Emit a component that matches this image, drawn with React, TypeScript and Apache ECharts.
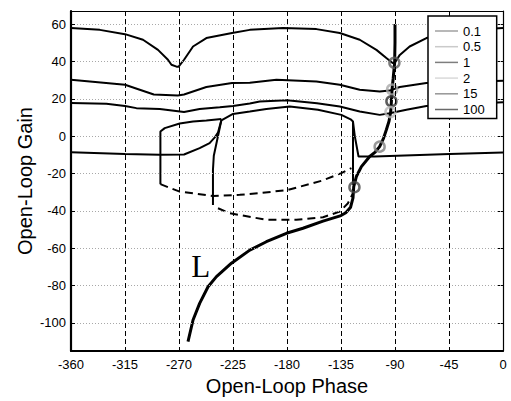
import React, { useEffect, useRef } from "react";
import * as echarts from "echarts";

const phaseTicks = [-360, -315, -270, -225, -180, -135, -90, -45, 0];
const gainTicks = [-100, -80, -60, -40, -20, 0, 20, 40, 60];

const legendNames = ["0.1", "0.5", "1", "2", "15", "100"];
const legendColors = ["#8a8a8a", "#bdbdbd", "#5e5e5e", "#d0d0d0", "#7a7a7a", "#444444"];
const markerColors = ["#5a5a5a", "#a8a8a8", "#333333", "#b8b8b8", "#808080", "#444444"];
const markerPoints = [
  [-90.5, 39.3],
  [-92.4, 25.0],
  [-93.0, 18.7],
  [-93.8, 12.9],
  [-102.8, -5.6],
  [-123.8, -27.3],
];

const curveA = [
  [-360, 57.9], [-336, 56.9], [-315, 54.6], [-300, 51.6], [-287.5, 46.2], [-279.2, 40.9],
  [-276.3, 38.2], [-272, 37.2], [-270.3, 37.2], [-265.8, 40.9], [-258.3, 48], [-247.2, 52.5],
  [-225.8, 55.2], [-211, 56.9], [-183.3, 57.9], [-155.5, 57.3], [-136, 55.2], [-119.4, 51.6],
  [-105.5, 46.2], [-97.2, 41.8], [-92, 39.2], [-90.3, 39.2], [-86, 43.5], [-77.8, 48],
  [-63.8, 52.5], [-45, 55.2], [-25, 57], [0, 57.9],
];
const curveB = [
  [-360, 30.2], [-315, 27.5], [-291, 22.3], [-271, 21.8], [-265.8, 22.3], [-247.2, 26.3],
  [-225.8, 28.4], [-211, 28.6], [-188.8, 30.2], [-155.5, 29.3], [-136, 27.5], [-119.4, 24.8],
  [-102.7, 23.9], [-94.4, 24.4], [-86, 26.3], [-63.8, 28.4], [0, 29.6],
];
const curveC = [
  [-360, 17.7], [-330.5, 17.3], [-315, 16.2], [-305.5, 15], [-286, 14.6], [-265.8, 12.9],
  [-252.8, 14.5], [-236, 15.5], [-225, 16.2], [-211, 17.5], [-202.7, 18.5], [-180, 19.2],
  [-155, 17.6], [-136, 15.9], [-119.4, 13.2], [-102.7, 11.4], [-94.4, 12.3], [-80.5, 14.1],
  [-63.8, 16.2], [0, 18.2],
];
const curveD = [
  [-360, -8.6], [-315, -9.5], [-286, -10], [-265.8, -9.8], [-252.8, -6.4], [-244.5, -3.7],
  [-240, -0.5], [-237.5, 2], [-234.7, 8.5], [-225, 11.9], [-211, 13.2], [-197.2, 14.5],
  [-177.7, 15.9], [-154.2, 14.1], [-134.7, 11.4], [-127, 9], [-125, 7.8], [-123.5, 0],
  [-120.4, -10.9], [-107, -10.9], [-44.4, -9.5], [0, -8.8],
];
const outerTop = [
  [-285.5, -25.7], [-285.5, 2.5], [-281.9, 4.3], [-269.4, 6.8], [-258.3, 7.8], [-247.2, 8.4],
  [-234.7, 9.2],
];
const innerSide = [[-234.7, 8.5], [-241, -10.5], [-241.7, -18], [-241.7, -36.8]];
const rightSide = [[-125, 7.8], [-125, -26]];
const outerDashed = [
  [-285.5, -25.7], [-269.4, -29.7], [-241.7, -32], [-219.4, -31.4], [-202.7, -30.5],
  [-179.2, -28.8], [-151.3, -23.9], [-134.7, -19.8], [-126.3, -17.1],
];
const innerDashed = [
  [-237.5, -38.6], [-227.8, -41.2], [-197.2, -44.8], [-172.2, -44.8], [-150, -43.4],
  [-136, -40.4], [-129.2, -35.9], [-125, -30.5], [-124.4, -27],
];
const openLoop = [
  [-90, 60], [-90, 50], [-90.3, 39.4], [-91.5, 31], [-92.5, 24.8], [-93, 18.5], [-93.6, 12.9],
  [-95, 8], [-97.2, 3.4], [-99.5, -1], [-102.8, -5.6], [-106.5, -8.5], [-111.1, -10.9],
  [-118, -16.3], [-122.2, -21.6], [-124.4, -27], [-125, -33], [-127, -38], [-131, -41],
  [-135, -42.5], [-150, -45.5], [-166.7, -49.3], [-180.5, -52], [-197.2, -56.5], [-211, -61],
  [-226.3, -68], [-238.8, -75.2], [-245.8, -80.6], [-252.8, -89.5], [-258.3, -98.4],
  [-262.5, -110],
];
const curveLabel = { text: "L", at: [-252, -70] };

const FONT = "'Liberation Sans', Arial, sans-serif";

function solid(data: number[][], width = 2, z = 3) {
  return {
    type: "line",
    data,
    symbol: "none",
    showSymbol: false,
    silent: true,
    z,
    lineStyle: { color: "#000", width, type: "solid" },
  };
}
function dashed(data: number[][]) {
  return {
    type: "line",
    data,
    symbol: "none",
    showSymbol: false,
    silent: true,
    z: 3,
    lineStyle: { color: "#000", width: 2, type: [8, 5] },
  };
}

export default function App() {
  const ref = useRef<HTMLDivElement>(null);
  useEffect(() => {
    const chart = echarts.init(ref.current!, null, { renderer: "svg" });
    const series: any[] = [
      {
        type: "line",
        data: [],
        symbol: "none",
        silent: true,
        z: 1,
        markLine: {
          silent: true,
          symbol: ["none", "none"],
          label: { show: false },
          lineStyle: { type: [1, 2], color: "#a8a8a8", width: 1 },
          emphasis: { disabled: true },
          data: gainTicks.map((v) => ({ yAxis: v })),
        },
      },
      solid(curveA),
      solid(curveB),
      solid(curveC),
      solid(curveD),
      solid(outerTop),
      solid(innerSide),
      solid(rightSide),
      dashed(outerDashed),
      dashed(innerDashed),
      solid(openLoop, 3, 4),
      ...legendNames.map((n, i) => ({
        type: "scatter",
        name: n,
        data: [markerPoints[i]],
        symbol: "circle",
        symbolSize: 10,
        silent: true,
        z: 5,
        itemStyle: { color: "rgba(255,255,255,0)", borderColor: markerColors[i], borderWidth: 2.5 },
      })),
    ];
    chart.setOption({
      animation: false,
      textStyle: { fontFamily: FONT },
      grid: { left: 71, top: 11, width: 432, height: 340, containLabel: false },
      legend: {
        orient: "vertical",
        left: 428,
        top: 16,
        data: legendNames.map((n, i) => ({ name: n, icon: "rect", itemStyle: { color: legendColors[i], borderWidth: 0 } })),
        itemWidth: 23,
        itemHeight: 1.5,
        itemGap: 1.7,
        padding: [8, 12, 2, 7],
        backgroundColor: "#fff",
        borderColor: "#000",
        borderWidth: 1.5,
        selectedMode: false,
        textStyle: { fontSize: 13, lineHeight: 14, color: "#000", fontFamily: FONT },
        z: 10,
      },
      xAxis: [
        {
          type: "value",
          min: phaseTicks[0],
          max: phaseTicks[phaseTicks.length - 1],
          interval: 45,
          position: "bottom",
          z: 6,
          axisLine: { show: true, onZero: false, lineStyle: { color: "#000", width: 2.2 } },
          axisTick: { show: true, inside: true, length: 4, lineStyle: { color: "#000" } },
          axisLabel: { fontSize: 13, color: "#000", margin: 7, fontFamily: FONT },
          splitLine: { show: true, lineStyle: { color: "#000", width: 1, type: [5, 3] } },
          name: "Open-Loop Phase",
          nameLocation: "middle",
          nameGap: 25,
          nameMoveOverlap: false,
          nameTextStyle: { fontSize: 20, color: "#000", fontFamily: FONT },
        },
        {
          type: "value",
          min: phaseTicks[0],
          max: phaseTicks[phaseTicks.length - 1],
          interval: 45,
          position: "top",
          axisLine: { show: true, onZero: false, lineStyle: { color: "#000", width: 1.2 } },
          axisTick: { show: true, inside: true, length: 5, lineStyle: { color: "#000" } },
          axisLabel: { show: false },
          splitLine: { show: false },
        },
      ],
      yAxis: [
        {
          type: "value",
          min: -115,
          max: 67,
          position: "left",
          z: 6,
          axisLine: { show: true, onZero: false, lineStyle: { color: "#000", width: 2.2 } },
          axisTick: { show: true, inside: true, length: 4, customValues: gainTicks, lineStyle: { color: "#000" } },
          axisLabel: { customValues: gainTicks, fontSize: 13, color: "#000", margin: 5, fontFamily: FONT },
          splitLine: { show: false },
          name: "Open-Loop Gain",
          nameLocation: "middle",
          nameGap: 36,
          nameMoveOverlap: false,
          nameTextStyle: { fontSize: 20, color: "#000", fontFamily: FONT },
        },
        {
          type: "value",
          min: -115,
          max: 67,
          position: "right",
          axisLine: { show: true, onZero: false, lineStyle: { color: "#000", width: 1.2 } },
          axisTick: { show: true, inside: true, length: 5, customValues: gainTicks, lineStyle: { color: "#000" } },
          axisLabel: { show: false },
          splitLine: { show: false },
        },
      ],
      series,
    });
    const [lx, ly] = chart.convertToPixel({ gridIndex: 0 }, curveLabel.at) as number[];
    chart.setOption({
      graphic: [
        {
          type: "text",
          x: lx,
          y: ly,
          z: 10,
          silent: true,
          style: {
            text: curveLabel.text,
            fill: "#000",
            font: "31px 'Liberation Serif', 'Times New Roman', serif",
            align: "center",
            verticalAlign: "middle",
          },
        },
      ],
    });
    return () => chart.dispose();
  }, []);
  return (
    <div
      ref={ref}
      style={{ position: "fixed", left: 0, top: 0, width: 511, height: 401, background: "#fff" }}
    />
  );
}
